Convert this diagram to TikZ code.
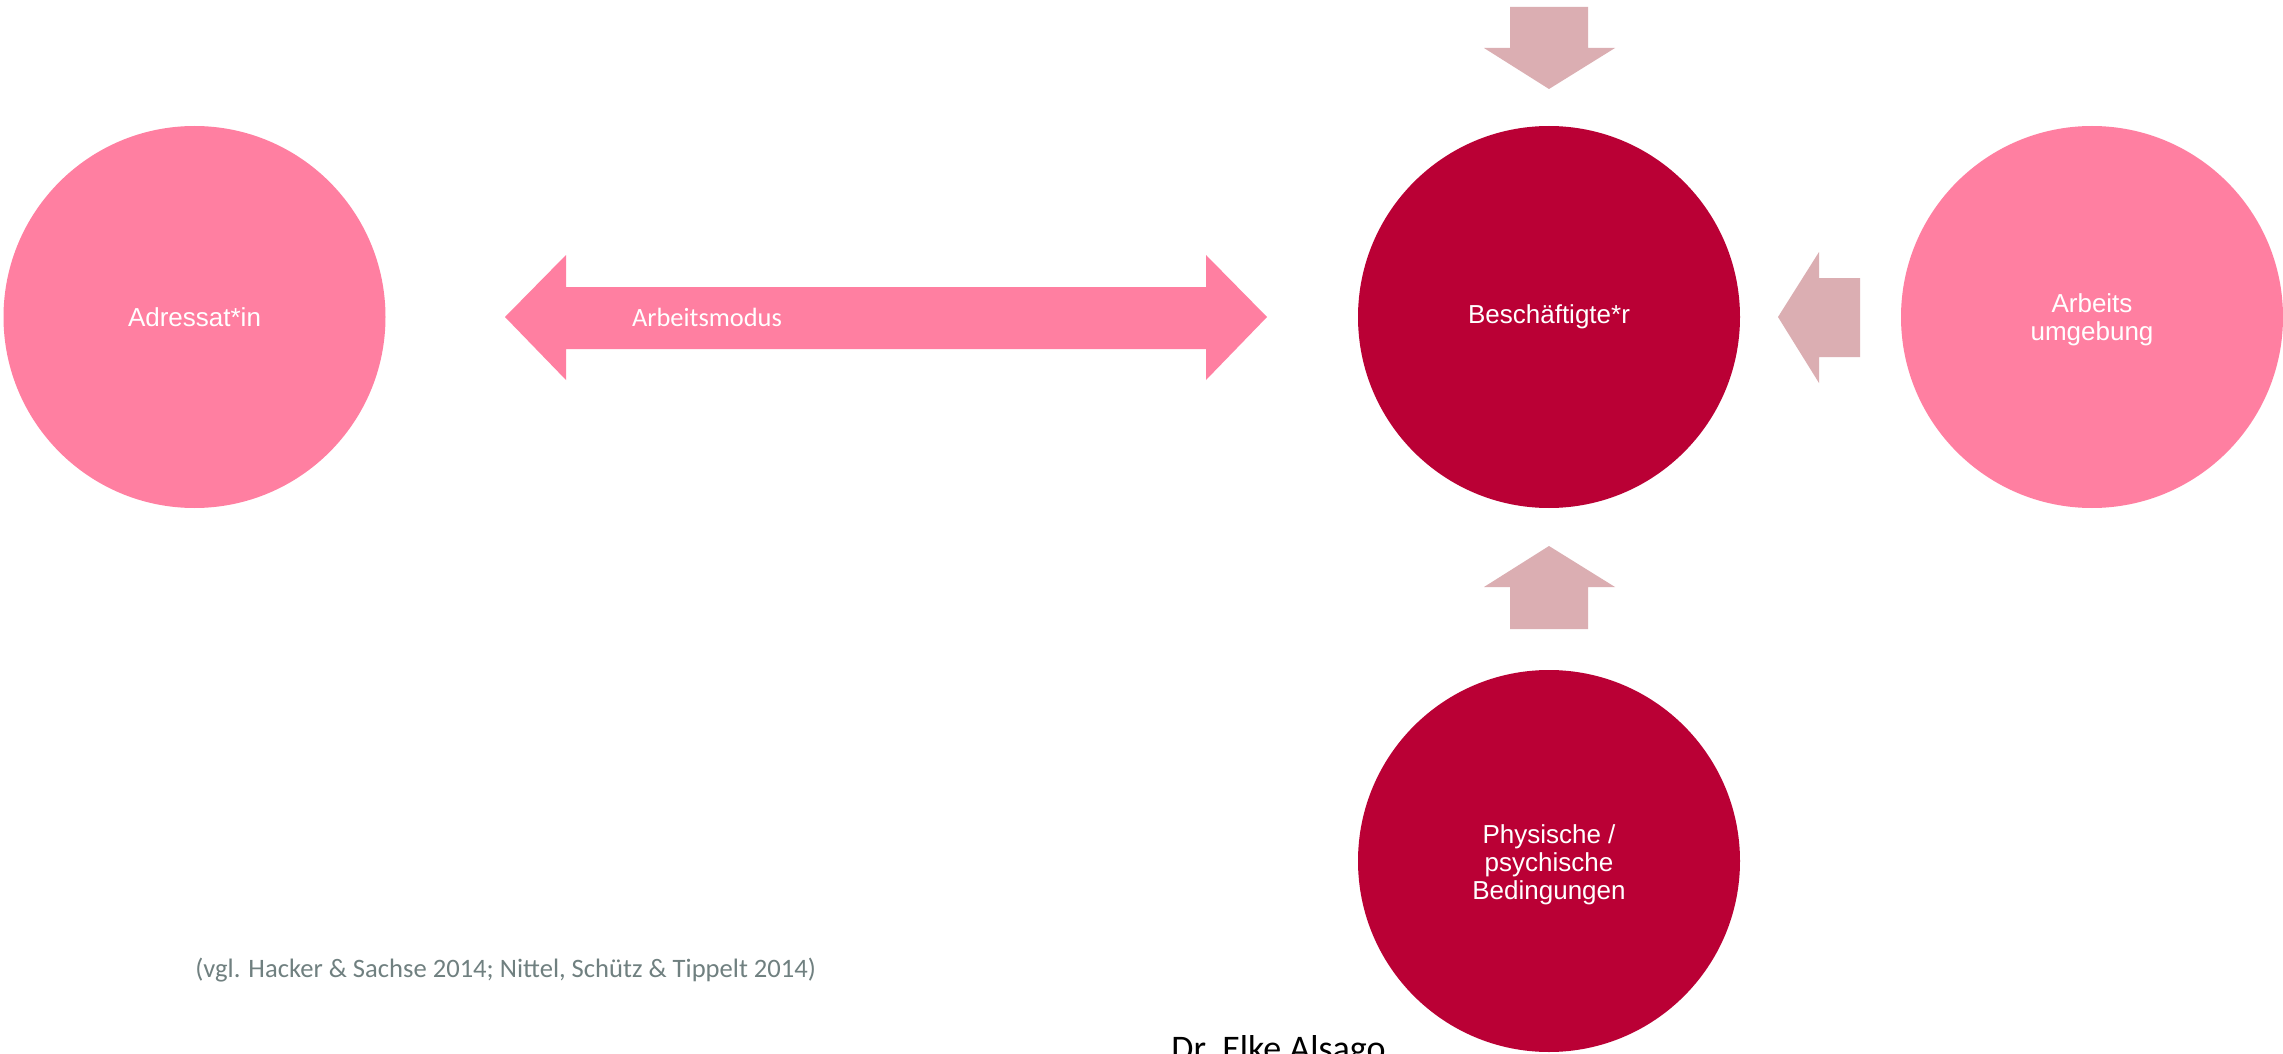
\documentclass[tikz,border=0pt]{standalone}
\usepackage{fontspec}
\setmainfont{Liberation Sans}
\newfontfamily\calibrilike{Carlito}
\definecolor{rosepink}{RGB}{255,127,161}
\definecolor{deepred}{RGB}{186,0,53}
\definecolor{dustyrose}{RGB}{219,174,178}
\definecolor{citegray}{RGB}{112,128,128}
\tikzset{
  bubble/.style={circle, draw=none, inner sep=0pt, minimum size=191pt,
    text=white, align=center, font=\fontsize{13}{14}\selectfont},
  blockarrow/.style={fill=dustyrose, draw=none},
}
\begin{document}
\begin{tikzpicture}[x=0.5pt, y=-0.5pt]
\useasboundingbox (0,0) rectangle (2283,1054);
\fill[white] (0,0) rectangle (2283,1054);

% circles
\node[bubble, fill=rosepink] (adr) at (194.5,317) {Adressat*in};
\node[bubble, fill=deepred] (bes) at (1549,317) {Besch\"aftigte*r};
\node[bubble, fill=rosepink] (umg) at (2092,317) {};
\node[bubble, fill=deepred] (phy) at (1549,861) {};
\node[text=white, align=center, font=\fontsize{13}{14}\selectfont] (umgtext) at (2092,320) {Arbeits\\umgebung};
\node[text=white, align=center, font=\fontsize{13}{14}\selectfont] (phytext) at (1549,865) {Physische /\\psychische\\Bedingungen};

% double arrow between Adressat*in and Beschaeftigte*r
\fill[rosepink] (505,317) -- (566,255) -- (566,287) -- (1206,287) -- (1206,255)
  -- (1267,317) -- (1206,380) -- (1206,349) -- (566,349) -- (566,380) -- cycle;
\node[text=white, font=\calibrilike\fontsize{13.2}{14}\selectfont] (mod) at (707,317) {Arbeitsmodus};

% arrow from the top
\fill[blockarrow] (1510,7) -- (1588,7) -- (1588,48) -- (1615,48) -- (1549,89)
  -- (1484,48) -- (1510,48) -- cycle;
% arrow from Arbeitsumgebung
\fill[blockarrow] (1860,278) -- (1860,357) -- (1819,357) -- (1819,383) -- (1778,317)
  -- (1819,252) -- (1819,278) -- cycle;
% arrow from the physical / psychological conditions
\fill[blockarrow] (1510,629) -- (1588,629) -- (1588,587) -- (1615,587) -- (1549,546)
  -- (1484,587) -- (1510,587) -- cycle;

% source and author
\node[text=citegray, font=\calibrilike\fontsize{13.3}{15}\selectfont, anchor=west, inner sep=0pt] (cite) at (195,970)
  {(vgl. Hacker \& Sachse 2014; Nittel, Sch\"utz \& Tippelt 2014)};
\node[text=black, font=\calibrilike\fontsize{18}{20}\selectfont, anchor=base west, inner sep=0pt] (auth) at (1171,1060)
  {Dr. Elke Alsago};
\end{tikzpicture}
\end{document}
